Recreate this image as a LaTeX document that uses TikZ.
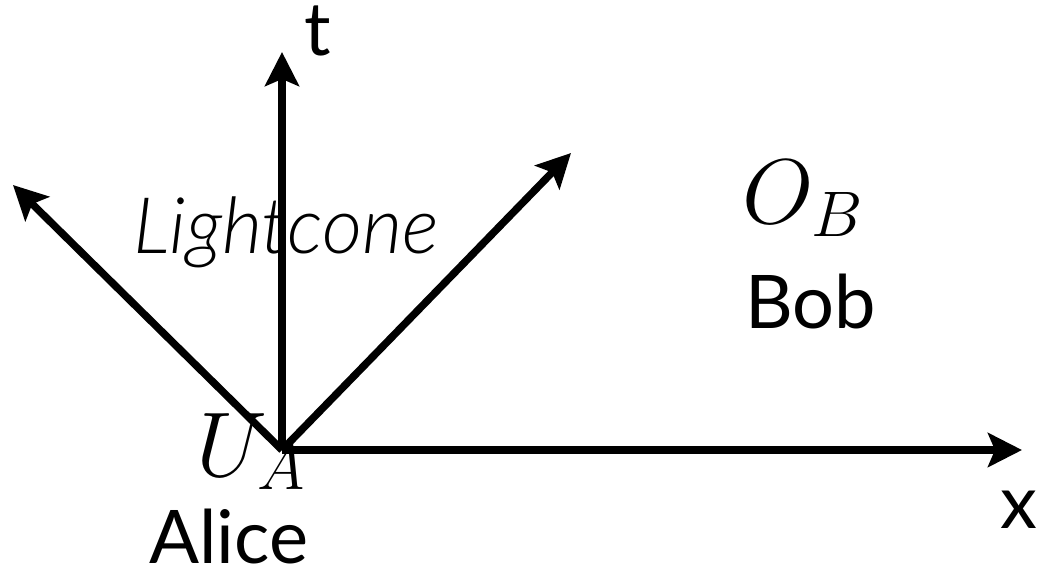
\RequirePackage{fix-cm}
\documentclass[tikz,border=0pt]{standalone}
\usepackage{fontspec}
\setmainfont{Lato}
\newfontfamily\lightit{Lato Light Italic}
\usetikzlibrary{arrows.meta}
\tikzset{
  axis/.style={line width=7.5pt, -{Stealth[length=34pt,width=34pt,inset=7pt]}},
  lbl/.style={inner sep=0pt, anchor=base west, font=\fontsize{74}{80}\selectfont},
  mlbl/.style={inner sep=0pt, anchor=base west, font=\fontsize{92}{100}\selectfont},
}
\begin{document}
\begin{tikzpicture}[x=1pt,y=-1pt]
\useasboundingbox (0,0) rectangle (1038,582);
\coordinate (o) at (282,450);
\coordinate (tt) at (282,52);
\coordinate (xt) at (1022,450);
\coordinate (rt) at (571,153);
\coordinate (lt) at (13,185);
\draw[axis] (o) -- (tt);
\draw[axis] (o) -- (xt);
\draw[axis] (o) -- (rt);
\draw[axis] (o) -- (lt);
\node[lbl] (t) at (304,55) {t};
\node[lbl] (x) at (1000,528) {x};
\node[lbl, font=\fontsize{78}{80}\selectfont\lightit] (lc) at (133,253) {Lightcone};
\node[mlbl] (ob) at (742,223) {$O_B$};
\node[lbl] (bob) at (745,328) {Bob};
\node[mlbl] (ua) at (196,476) {$U_A$};
\node[lbl] (alice) at (149,563) {Alice};
\end{tikzpicture}
\end{document}
